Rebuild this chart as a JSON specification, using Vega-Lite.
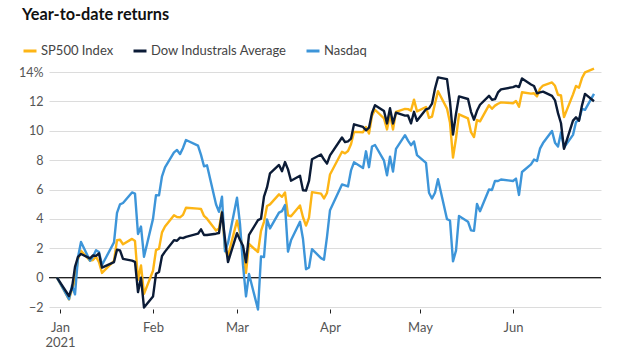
{
  "$schema": "https://vega.github.io/schema/vega-lite/v6.json",
  "width": 552,
  "height": 235,
  "autosize": {"type": "none"},
  "padding": {"left": 49, "top": 72, "right": 39, "bottom": 45},
  "background": "white",
  "title": {
    "text": "Year-to-date returns",
    "anchor": "start",
    "frame": "group",
    "dx": -27,
    "offset": 20,
    "font": "Lato",
    "fontSize": 16.3,
    "fontWeight": "bold",
    "color": "#111111"
  },
  "config": {
    "view": {"stroke": null},
    "axisY": {
      "grid": true,
      "gridColor": "#dcdcdc",
      "gridWidth": 1,
      "domain": false,
      "ticks": false,
      "labelPadding": 6,
      "labelFont": "Lato",
      "labelFontSize": 12.5,
      "labelColor": "#555555",
      "title": null
    },
    "axisX": {
      "grid": false,
      "domain": false,
      "ticks": true,
      "tickColor": "#222222",
      "tickSize": 4,
      "tickWidth": 1,
      "offset": 2,
      "labelPadding": 8,
      "labelFont": "Lato",
      "labelFontSize": 13,
      "labelColor": "#555555",
      "labelLineHeight": 15,
      "title": null
    },
    "legend": {
      "labelFont": "Lato",
      "labelFontSize": 13,
      "labelColor": "#444444",
      "symbolType": "stroke",
      "symbolStrokeWidth": 3,
      "symbolSize": 169,
      "labelOffset": 3,
      "columnPadding": 13
    }
  },
  "layer": [
    {
      "data": {"values": [{"v": 0}]},
      "mark": {"type": "rule", "color": "#222222", "strokeWidth": 1.2},
      "encoding": {
        "y": {
          "field": "v",
          "type": "quantitative",
          "scale": {"domain": [-2, 14], "nice": false, "zero": false},
          "axis": {
            "values": [-2, 0, 2, 4, 6, 8, 10, 12, 14],
            "labelExpr": "datum.value == 14 ? '14%' : datum.label"
          }
        }
      }
    },
    {
      "data": {
        "values": [
          {"d": "2020-12-31", "sp": 0, "dow": 0, "nq": 0},
          {"d": "2021-01-04", "sp": -1.48, "dow": -1.25, "nq": -1.47},
          {"d": "2021-01-05", "sp": -0.78, "dow": -0.70, "nq": -0.54},
          {"d": "2021-01-06", "sp": -0.21, "dow": 0.73, "nq": -1.14},
          {"d": "2021-01-07", "sp": 1.27, "dow": 1.42, "nq": 1.39},
          {"d": "2021-01-08", "sp": 1.83, "dow": 1.61, "nq": 2.43},
          {"d": "2021-01-11", "sp": 1.16, "dow": 1.31, "nq": 1.15},
          {"d": "2021-01-12", "sp": 1.20, "dow": 1.51, "nq": 1.43},
          {"d": "2021-01-13", "sp": 1.43, "dow": 1.48, "nq": 1.87},
          {"d": "2021-01-14", "sp": 1.05, "dow": 1.65, "nq": 1.74},
          {"d": "2021-01-15", "sp": 0.32, "dow": 0.68, "nq": 0.86},
          {"d": "2021-01-19", "sp": 1.14, "dow": 1.06, "nq": 2.40},
          {"d": "2021-01-20", "sp": 2.55, "dow": 1.90, "nq": 4.41},
          {"d": "2021-01-21", "sp": 2.58, "dow": 1.86, "nq": 4.99},
          {"d": "2021-01-22", "sp": 2.27, "dow": 1.28, "nq": 5.08},
          {"d": "2021-01-25", "sp": 2.64, "dow": 1.16, "nq": 5.80},
          {"d": "2021-01-26", "sp": 2.49, "dow": 1.08, "nq": 5.72},
          {"d": "2021-01-27", "sp": -0.14, "dow": -0.99, "nq": 2.97},
          {"d": "2021-01-28", "sp": 0.83, "dow": -0.01, "nq": 3.48},
          {"d": "2021-01-29", "sp": -1.11, "dow": -2.04, "nq": 1.42},
          {"d": "2021-02-01", "sp": 0.47, "dow": -1.29, "nq": 4.00},
          {"d": "2021-02-02", "sp": 1.87, "dow": 0.26, "nq": 5.62},
          {"d": "2021-02-03", "sp": 1.97, "dow": 0.38, "nq": 5.60},
          {"d": "2021-02-04", "sp": 3.08, "dow": 1.47, "nq": 6.90},
          {"d": "2021-02-05", "sp": 3.48, "dow": 1.77, "nq": 7.51},
          {"d": "2021-02-08", "sp": 4.25, "dow": 2.55, "nq": 8.53},
          {"d": "2021-02-09", "sp": 4.13, "dow": 2.51, "nq": 8.69},
          {"d": "2021-02-10", "sp": 4.10, "dow": 2.72, "nq": 8.41},
          {"d": "2021-02-11", "sp": 4.27, "dow": 2.69, "nq": 8.83},
          {"d": "2021-02-12", "sp": 4.76, "dow": 2.78, "nq": 9.37},
          {"d": "2021-02-16", "sp": 4.70, "dow": 2.99, "nq": 8.99},
          {"d": "2021-02-17", "sp": 4.67, "dow": 3.29, "nq": 8.36},
          {"d": "2021-02-18", "sp": 4.20, "dow": 2.90, "nq": 7.58},
          {"d": "2021-02-19", "sp": 4.01, "dow": 2.90, "nq": 7.65},
          {"d": "2021-02-22", "sp": 3.21, "dow": 2.99, "nq": 5.00},
          {"d": "2021-02-23", "sp": 3.34, "dow": 3.04, "nq": 4.48},
          {"d": "2021-02-24", "sp": 4.51, "dow": 4.43, "nq": 5.51},
          {"d": "2021-02-25", "sp": 1.95, "dow": 2.60, "nq": 1.79},
          {"d": "2021-02-26", "sp": 1.47, "dow": 1.06, "nq": 2.36},
          {"d": "2021-03-01", "sp": 3.88, "dow": 3.03, "nq": 5.44},
          {"d": "2021-03-02", "sp": 3.04, "dow": 2.56, "nq": 3.65},
          {"d": "2021-03-03", "sp": 1.69, "dow": 2.17, "nq": 0.85},
          {"d": "2021-03-04", "sp": 0.33, "dow": 1.04, "nq": -1.28},
          {"d": "2021-03-05", "sp": 2.29, "dow": 2.91, "nq": 0.25},
          {"d": "2021-03-08", "sp": 1.74, "dow": 3.91, "nq": -2.17},
          {"d": "2021-03-09", "sp": 3.18, "dow": 4.01, "nq": 1.44},
          {"d": "2021-03-10", "sp": 3.80, "dow": 5.52, "nq": 1.40},
          {"d": "2021-03-11", "sp": 4.88, "dow": 6.14, "nq": 3.96},
          {"d": "2021-03-12", "sp": 4.99, "dow": 7.10, "nq": 3.35},
          {"d": "2021-03-15", "sp": 5.67, "dow": 7.67, "nq": 4.43},
          {"d": "2021-03-16", "sp": 5.50, "dow": 7.25, "nq": 4.53},
          {"d": "2021-03-17", "sp": 5.80, "dow": 7.87, "nq": 4.94},
          {"d": "2021-03-18", "sp": 4.24, "dow": 7.37, "nq": 1.77},
          {"d": "2021-03-19", "sp": 4.18, "dow": 6.60, "nq": 2.54},
          {"d": "2021-03-22", "sp": 4.91, "dow": 6.94, "nq": 3.80},
          {"d": "2021-03-23", "sp": 4.11, "dow": 5.94, "nq": 2.63},
          {"d": "2021-03-24", "sp": 3.54, "dow": 5.93, "nq": 0.57},
          {"d": "2021-03-25", "sp": 4.09, "dow": 6.58, "nq": 0.69},
          {"d": "2021-03-26", "sp": 5.82, "dow": 8.06, "nq": 1.94},
          {"d": "2021-03-29", "sp": 5.72, "dow": 8.38, "nq": 1.33},
          {"d": "2021-03-30", "sp": 5.39, "dow": 8.04, "nq": 1.22},
          {"d": "2021-03-31", "sp": 5.77, "dow": 7.76, "nq": 2.78},
          {"d": "2021-04-01", "sp": 7.02, "dow": 8.32, "nq": 4.59},
          {"d": "2021-04-05", "sp": 8.57, "dow": 9.54, "nq": 6.34},
          {"d": "2021-04-06", "sp": 8.46, "dow": 9.23, "nq": 6.28},
          {"d": "2021-04-07", "sp": 8.62, "dow": 9.28, "nq": 6.21},
          {"d": "2021-04-08", "sp": 9.08, "dow": 9.46, "nq": 7.30},
          {"d": "2021-04-09", "sp": 9.92, "dow": 10.44, "nq": 7.85},
          {"d": "2021-04-12", "sp": 9.90, "dow": 10.26, "nq": 7.46},
          {"d": "2021-04-13", "sp": 10.26, "dow": 10.03, "nq": 8.60},
          {"d": "2021-04-14", "sp": 9.81, "dow": 10.21, "nq": 7.52},
          {"d": "2021-04-15", "sp": 11.03, "dow": 11.21, "nq": 8.93},
          {"d": "2021-04-16", "sp": 11.43, "dow": 11.74, "nq": 9.03},
          {"d": "2021-04-19", "sp": 10.84, "dow": 11.34, "nq": 7.96},
          {"d": "2021-04-20", "sp": 10.09, "dow": 10.50, "nq": 6.97},
          {"d": "2021-04-21", "sp": 11.11, "dow": 11.54, "nq": 8.24},
          {"d": "2021-04-22", "sp": 10.09, "dow": 10.49, "nq": 7.22},
          {"d": "2021-04-23", "sp": 11.29, "dow": 11.23, "nq": 8.76},
          {"d": "2021-04-26", "sp": 11.49, "dow": 11.03, "nq": 9.70},
          {"d": "2021-04-27", "sp": 11.47, "dow": 11.04, "nq": 9.33},
          {"d": "2021-04-28", "sp": 11.37, "dow": 10.50, "nq": 9.02},
          {"d": "2021-04-29", "sp": 12.12, "dow": 11.29, "nq": 9.27},
          {"d": "2021-04-30", "sp": 11.32, "dow": 10.68, "nq": 8.34},
          {"d": "2021-05-03", "sp": 11.62, "dow": 11.46, "nq": 7.81},
          {"d": "2021-05-04", "sp": 10.88, "dow": 11.52, "nq": 5.78},
          {"d": "2021-05-05", "sp": 10.96, "dow": 11.84, "nq": 5.39},
          {"d": "2021-05-06", "sp": 11.86, "dow": 12.88, "nq": 5.78},
          {"d": "2021-05-07", "sp": 12.69, "dow": 13.63, "nq": 6.70},
          {"d": "2021-05-10", "sp": 11.51, "dow": 13.51, "nq": 3.98},
          {"d": "2021-05-11", "sp": 10.54, "dow": 11.97, "nq": 3.89},
          {"d": "2021-05-12", "sp": 8.17, "dow": 9.74, "nq": 1.11},
          {"d": "2021-05-13", "sp": 9.49, "dow": 11.16, "nq": 1.84},
          {"d": "2021-05-14", "sp": 11.12, "dow": 12.34, "nq": 4.20},
          {"d": "2021-05-17", "sp": 10.84, "dow": 12.16, "nq": 3.81},
          {"d": "2021-05-18", "sp": 9.90, "dow": 11.29, "nq": 3.22},
          {"d": "2021-05-19", "sp": 9.57, "dow": 10.75, "nq": 3.19},
          {"d": "2021-05-20", "sp": 10.73, "dow": 11.36, "nq": 5.02},
          {"d": "2021-05-21", "sp": 10.64, "dow": 11.77, "nq": 4.52},
          {"d": "2021-05-24", "sp": 11.74, "dow": 12.38, "nq": 6.00},
          {"d": "2021-05-25", "sp": 11.50, "dow": 12.11, "nq": 5.97},
          {"d": "2021-05-26", "sp": 11.71, "dow": 12.15, "nq": 6.59},
          {"d": "2021-05-27", "sp": 11.84, "dow": 12.61, "nq": 6.58},
          {"d": "2021-05-28", "sp": 11.93, "dow": 12.82, "nq": 6.68},
          {"d": "2021-06-01", "sp": 11.87, "dow": 12.97, "nq": 6.58},
          {"d": "2021-06-02", "sp": 12.03, "dow": 13.05, "nq": 6.74},
          {"d": "2021-06-03", "sp": 11.63, "dow": 12.97, "nq": 5.63},
          {"d": "2021-06-04", "sp": 12.62, "dow": 13.56, "nq": 7.19},
          {"d": "2021-06-07", "sp": 12.53, "dow": 13.15, "nq": 7.71},
          {"d": "2021-06-08", "sp": 12.55, "dow": 13.05, "nq": 8.04},
          {"d": "2021-06-09", "sp": 12.34, "dow": 12.55, "nq": 7.94},
          {"d": "2021-06-10", "sp": 12.86, "dow": 12.61, "nq": 8.78},
          {"d": "2021-06-11", "sp": 13.08, "dow": 12.66, "nq": 9.16},
          {"d": "2021-06-14", "sp": 13.29, "dow": 12.37, "nq": 9.98},
          {"d": "2021-06-15", "sp": 13.06, "dow": 12.07, "nq": 9.19},
          {"d": "2021-06-16", "sp": 12.45, "dow": 11.20, "nq": 8.93},
          {"d": "2021-06-17", "sp": 12.40, "dow": 10.51, "nq": 9.88},
          {"d": "2021-06-18", "sp": 10.93, "dow": 8.77, "nq": 8.86},
          {"d": "2021-06-21", "sp": 12.48, "dow": 10.69, "nq": 9.72},
          {"d": "2021-06-22", "sp": 13.05, "dow": 10.91, "nq": 10.59},
          {"d": "2021-06-23", "sp": 12.93, "dow": 10.68, "nq": 10.73},
          {"d": "2021-06-24", "sp": 13.59, "dow": 11.73, "nq": 11.49},
          {"d": "2021-06-25", "sp": 13.97, "dow": 12.51, "nq": 11.42},
          {"d": "2021-06-28", "sp": 14.23, "dow": 12.01, "nq": 12.51}
        ]
      },
      "transform": [{"fold": ["sp", "nq", "dow"], "as": ["series", "value"]}],
      "mark": {"type": "line", "strokeWidth": 2.4, "strokeJoin": "round", "clip": false},
      "encoding": {
        "x": {
          "field": "d",
          "type": "temporal",
          "scale": {
            "type": "utc",
            "domain": [
              {"year": 2020, "month": 12, "date": 28, "hours": 8, "utc": true},
              {"year": 2021, "month": 6, "date": 30, "hours": 8, "utc": true}
            ]
          },
          "axis": {
            "values": [
              {"year": 2021, "month": 1, "date": 1, "utc": true},
              {"year": 2021, "month": 2, "date": 1, "utc": true},
              {"year": 2021, "month": 3, "date": 1, "utc": true},
              {"year": 2021, "month": 4, "date": 1, "utc": true},
              {"year": 2021, "month": 5, "date": 1, "utc": true},
              {"year": 2021, "month": 6, "date": 1, "utc": true}
            ],
            "labelExpr": "utcFormat(datum.value, '%m') == '01' ? [utcFormat(datum.value, '%b'), utcFormat(datum.value, '%Y')] : utcFormat(datum.value, '%b')"
          }
        },
        "y": {
          "field": "value",
          "type": "quantitative",
          "scale": {"domain": [-2, 14], "nice": false, "zero": false},
          "axis": {
            "values": [-2, 0, 2, 4, 6, 8, 10, 12, 14],
            "labelExpr": "datum.value == 14 ? '14%' : datum.label"
          }
        },
        "color": {
          "field": "series",
          "type": "nominal",
          "scale": {"domain": ["sp", "dow", "nq"], "range": ["#FDB515", "#0B1B36", "#3D95D9"]},
          "legend": {
            "title": null,
            "orient": "none",
            "direction": "horizontal",
            "legendX": -27,
            "legendY": -29,
            "labelExpr": "datum.label == 'sp' ? 'SP500 Index' : datum.label == 'dow' ? 'Dow Industrals Average' : 'Nasdaq'"
          }
        }
      }
    }
  ]
}
